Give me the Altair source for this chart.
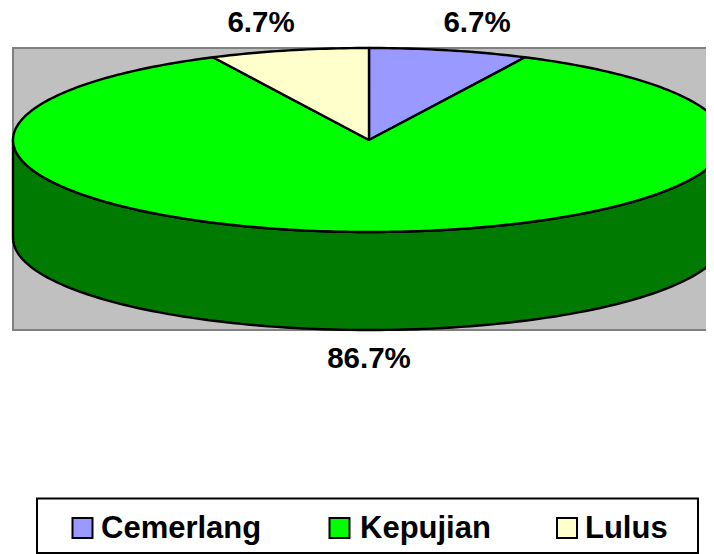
import numpy as np
import pandas as pd
import altair as alt

categories = ["Cemerlang", "Kepujian", "Lulus"]
percent_labels = ["6.7%", "86.7%", "6.7%"]
# apparent sweep of each slice on the tilted disc, degrees
sweeps = [26, 308, 26]
colors = ["#9999FF", "#00FF00", "#FFFFCC"]
side_color = "#007A00"
label_x = [477, 369, 261]
label_y = [32, 368, 32]
legend_swatch_x = [82.5, 339.5, 567]
legend_text_x = [101, 360, 585]
legend_swatch_y = 528
legend_text_y = 538

W, H = 698, 546
cx, cy, rx, ry, depth = 369, 140, 356, 92, 98
x_scale = alt.Scale(domain=[8, 8 + W], range=[0, W], nice=False, zero=False)
y_scale = alt.Scale(domain=[8, 8 + H], range=[0, H], nice=False, zero=False)
X = alt.X("x:Q", scale=x_scale, axis=None)
Y = alt.Y("y:Q", scale=y_scale, axis=None)


def rim(t, dy=0):
    t = np.radians(t)
    return cx + rx * np.sin(t), cy - ry * np.cos(t) + dy


def polygon(xs, ys, color, width=2.4):
    df = pd.DataFrame({"x": xs, "y": ys, "o": np.arange(len(xs))})
    return alt.Chart(df).mark_line(
        fill=color, stroke="black", strokeWidth=width, clip=True, strokeJoin="round", interpolate="linear"
    ).encode(x=X, y=Y, order=alt.Order("o:Q"))


bg = alt.Chart(pd.DataFrame({"x": [13], "x2": [760], "y": [48], "y2": [330]})).mark_rect(
    fill="#C0C0C0", stroke="#808080", strokeWidth=2, clip=True
).encode(x=X, x2="x2:Q", y=Y, y2="y2:Q")

# side wall
t_front = np.arange(90, 271, 1.5)
xa, ya = rim(t_front)
xb, yb = rim(t_front[::-1], depth)
side = polygon(np.r_[xa, xb, xa[0]], np.r_[ya, yb, ya[0]], side_color)

layers = [bg, side]
start = 0
for sweep, color in zip(sweeps, colors):
    t = np.linspace(start, start + sweep, max(int(sweep), 8) + 1)
    xr, yr = rim(t)
    layers.append(polygon(np.r_[cx, xr, cx], np.r_[cy, yr, cy], color))
    start += sweep

labels = pd.DataFrame({"x": label_x, "y": label_y, "t": percent_labels})
layers.append(
    alt.Chart(labels).mark_text(
        font="Liberation Sans", fontWeight="bold", fontSize=29.5, align="center", baseline="alphabetic", color="black"
    ).encode(x=X, y=Y, text="t:N")
)

box = pd.DataFrame({"x": [37], "x2": [698], "y": [498.5], "y2": [553]})
layers.append(
    alt.Chart(box).mark_rect(fill="white", stroke="black", strokeWidth=2).encode(x=X, x2="x2:Q", y=Y, y2="y2:Q")
)
sw = pd.DataFrame({"x": legend_swatch_x, "y": [legend_swatch_y] * 3, "c": categories})
layers.append(
    alt.Chart(sw).mark_point(shape="square", filled=True, size=400, stroke="black", strokeWidth=2, opacity=1).encode(
        x=X, y=Y,
        fill=alt.Fill("c:N", scale=alt.Scale(domain=categories, range=colors), legend=None),
    )
)
lt = pd.DataFrame({"x": legend_text_x, "y": [legend_text_y] * 3, "t": categories})
layers.append(
    alt.Chart(lt).mark_text(
        font="Liberation Sans", fontWeight="bold", fontSize=31, align="left", baseline="alphabetic", color="black"
    ).encode(x=X, y=Y, text="t:N")
)

chart = alt.layer(*layers).properties(
    width=W, height=H, padding=0, autosize=alt.AutoSizeParams(type="none"),
    background="white",
).configure_view(strokeWidth=0)
chart.save("out.html", embed_options={"renderer": "svg", "actions": False})
